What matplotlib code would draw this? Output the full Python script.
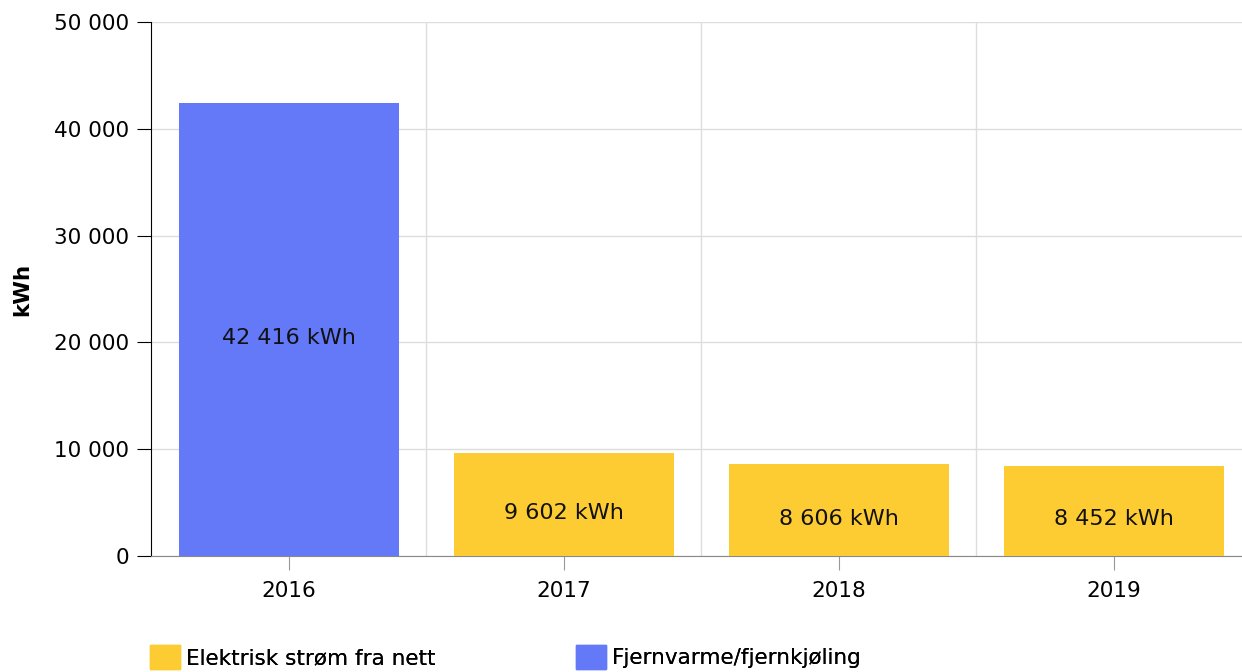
import matplotlib.pyplot as plt
from matplotlib.patches import Patch
from matplotlib.ticker import FuncFormatter

years = ["2016", "2017", "2018", "2019"]
values = [42416, 9602, 8606, 8452]
sources = ["Fjernvarme/fjernkjøling", "Elektrisk strøm fra nett",
           "Elektrisk strøm fra nett", "Elektrisk strøm fra nett"]
legend_order = ["Elektrisk strøm fra nett", "Fjernvarme/fjernkjøling"]
colors = {"Elektrisk strøm fra nett": "#fdcb32", "Fjernvarme/fjernkjøling": "#6479f8"}

plt.rcParams['font.family'] = ['DejaVu Sans']
fs = 15.5

fig = plt.figure(figsize=(12.42, 6.72), dpi=100)
# plot area runs a little past the right edge of the image, as in the reference
ax = fig.add_axes([151 / 1242, 1 - 556 / 672, 1100 / 1242, (556 - 22) / 672])

x = list(range(len(years)))
bars = ax.bar(x, values, width=0.8, color=[colors[s] for s in sources], zorder=3)

def fmt(v):
    return f"{int(v):,}".replace(",", " ")

for b, v in zip(bars, values):
    ax.text(b.get_x() + b.get_width() / 2, v / 2 - 800, f"{fmt(v)} kWh",
            ha="center", va="center", fontsize=16, color="#111111", zorder=4)

ax.set_xlim(-0.5, len(years) - 0.5)
ax.set_ylim(0, 50000)
ax.set_yticks(range(0, 50001, 10000))
ax.yaxis.set_major_formatter(FuncFormatter(lambda v, p: fmt(v)))
ax.set_xticks(x)
ax.set_xticklabels(years)
ax.set_xticks([i + 0.5 for i in x[:-1]], minor=True)

ax.grid(axis="y", color="#dddddd", linewidth=1, zorder=0)
ax.grid(axis="x", which="minor", color="#dddddd", linewidth=1, zorder=0)
ax.tick_params(axis="x", which="minor", length=0)
ax.tick_params(axis="x", which="major", length=10, color="#999999", labelsize=fs, pad=8)
ax.tick_params(axis="y", length=10, color="#000000", labelsize=fs, pad=6)

for s in ["top", "right"]:
    ax.spines[s].set_visible(False)
ax.spines["left"].set_color("#000000")
ax.spines["bottom"].set_color("#888888")

ax.set_ylabel("kWh", fontsize=fs, fontweight="bold")
ax.yaxis.set_label_coords((32 - 151) / 1100, 0.5)

for i, name in enumerate(legend_order):
    h = Patch(facecolor=colors[name], edgecolor=colors[name])
    leg = fig.legend(handles=[h], labels=[name], loc="center left",
                     bbox_to_anchor=([139 / 1242, 565 / 1242][i], 1 - 657 / 672),
                     frameon=False, fontsize=fs, handlelength=1.4, handleheight=1.4,
                     handletextpad=0.3, borderpad=0)
    fig.add_artist(leg)

fig.savefig("out.png", dpi=100)
